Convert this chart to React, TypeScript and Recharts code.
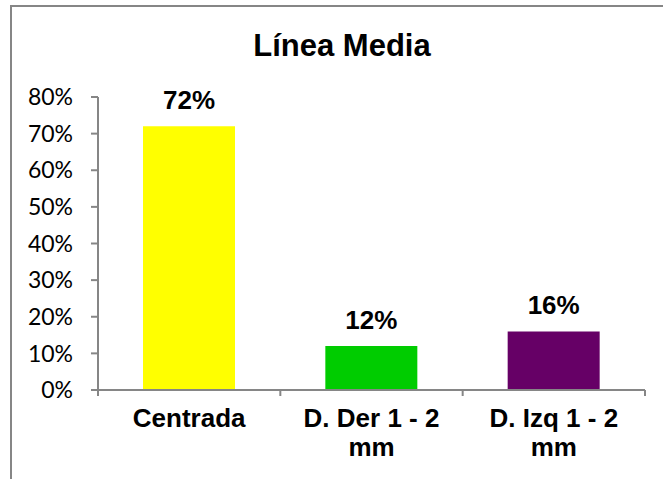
import { BarChart, Bar, XAxis, YAxis, Cell, LabelList } from 'recharts';

const categories = ['Centrada', 'D. Der 1 - 2 mm', 'D. Izq 1 - 2 mm'];
const values = [0.72, 0.12, 0.16];
const colors = ['#FFFF00', '#00CC00', '#660066'];
const yTicks = [0, 0.1, 0.2, 0.3, 0.4, 0.5, 0.6, 0.7, 0.8];
const title = 'Línea Media';

const W = 663;
const H = 479;
const margin = { top: 97, right: 18, left: 0, bottom: 0 };
const yAxisWidth = 98;
const xAxisHeight = 89;
const band = (W - margin.left - margin.right - yAxisWidth) / categories.length;
const gray = '#868686';
const boldFont = '"Liberation Sans", Arial, sans-serif';

const data = categories.map((name, i) => ({ name, value: values[i], color: colors[i] }));

const pct = (v: number) => `${Math.round(v * 100)}%`;

// long labels break before the last word, like the excel original
const splitLabel = (s: string) => {
  if (s.length <= 10) return [s];
  const i = s.lastIndexOf(' ');
  return [s.slice(0, i), s.slice(i + 1)];
};

function CategoryTick(props: any) {
  const { x, y, payload, index } = props;
  const last = index === categories.length - 1;
  const lines = splitLabel(String(payload.value));
  return (
    <g>
      <line x1={x - band / 2} x2={x - band / 2} y1={y} y2={y + 6} stroke={gray} strokeWidth={2} />
      {last && <line x1={x + band / 2} x2={x + band / 2} y1={y} y2={y + 6} stroke={gray} strokeWidth={2} />}
      <text
        x={x}
        y={y + 37}
        textAnchor="middle"
        style={{ fontFamily: boldFont, fontWeight: 'bold', fontSize: 26, fill: '#000' }}
      >
        {lines.map((l, i) => (
          <tspan key={i} x={x} dy={i === 0 ? 0 : 29}>
            {l}
          </tspan>
        ))}
      </text>
    </g>
  );
}

export default function App() {
  return (
    <div style={{ position: 'absolute', left: 0, top: 0, width: W, height: H, overflow: 'hidden', background: '#fff' }}>
      <div style={{ position: 'absolute', left: 10, top: 5, width: 700, height: 520, border: `2px solid ${gray}`, boxSizing: 'border-box' }} />
      <div
        style={{
          position: 'absolute',
          left: 342 - 200,
          top: 30,
          width: 400,
          textAlign: 'center',
          fontFamily: boldFont,
          fontWeight: 'bold',
          fontSize: 31,
          lineHeight: 1,
          color: '#000',
        }}
      >
        {title}
      </div>
      <div style={{ position: 'absolute', left: 0, top: 0 }}>
        <BarChart width={W} height={H} data={data} margin={margin}>
          <XAxis
            dataKey="name"
            height={xAxisHeight}
            axisLine={{ stroke: gray, strokeWidth: 2 }}
            tickLine={false}
            tickSize={0}
            tickMargin={0}
            interval={0}
            tick={<CategoryTick />}
          />
          <YAxis
            width={yAxisWidth}
            domain={[0, 0.8]}
            ticks={yTicks}
            interval={0}
            tickFormatter={pct}
            axisLine={{ stroke: gray, strokeWidth: 2 }}
            tickLine={{ stroke: gray, strokeWidth: 2 }}
            tickSize={7}
            tickMargin={18}
            tick={{ fontFamily: 'Lato, sans-serif', fontSize: 23, fill: '#000' }}
          />
          <Bar dataKey="value" barSize={92} isAnimationActive={false}>
            {data.map((d) => (
              <Cell key={d.name} fill={d.color} />
            ))}
            <LabelList
              dataKey="value"
              position="top"
              offset={17}
              formatter={(v: any) => pct(Number(v))}
              style={{ fontFamily: boldFont, fontWeight: 'bold', fontSize: 26, fill: '#000' }}
            />
          </Bar>
        </BarChart>
      </div>
    </div>
  );
}
